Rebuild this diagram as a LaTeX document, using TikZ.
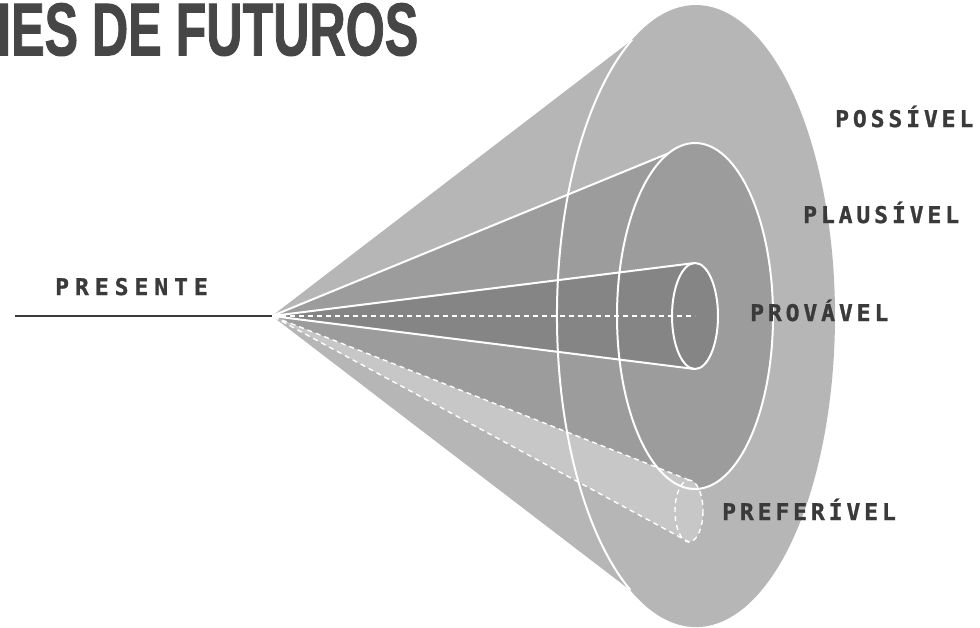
\documentclass[tikz,border=0pt]{standalone}
\usepackage{fontspec}
\usepackage{graphicx}
\setmainfont{DejaVu Sans Mono}
\newfontfamily\labfont[LetterSpace=17, BoldFeatures={FakeBold=1.2}]{DejaVu Sans Mono}
\newfontfamily\labfontwide[LetterSpace=26, BoldFeatures={FakeBold=1.2}]{DejaVu Sans Mono}
\newfontfamily\titlefont[BoldFeatures={FakeBold=1.5}]{Liberation Sans}
\definecolor{outerc}{HTML}{B6B6B6}
\definecolor{plausc}{HTML}{9C9C9C}
\definecolor{provc}{HTML}{858585}
\definecolor{bandc}{HTML}{C7C7C7}
\definecolor{txtc}{HTML}{3A3A3A}
\definecolor{titlec}{HTML}{464646}
\tikzset{
  wl/.style={white, line width=2},
  wd/.style={white, line width=1.4, dash pattern=on 5 off 4},
  lab/.style={anchor=base west, inner sep=0, text=txtc, font=\labfont\bfseries\fontsize{23}{23}\selectfont},
  labwide/.style={lab, font=\labfontwide\bfseries\fontsize{23}{23}\selectfont},
}
\begin{document}
\begin{tikzpicture}[x=1pt,y=-1pt]
\useasboundingbox (0,0) rectangle (980,627);
\clip (0,0) rectangle (980,627);
\fill[white] (0,0) rectangle (980,627);

% geometry points
\coordinate (A) at (272,316);
\coordinate (L) at (15,316);
\coordinate (T1) at (632,40);
\coordinate (T2) at (630.3,590);
\coordinate (PU) at (668.3,153.4);
\coordinate (PL) at (668.3,478.6);
\coordinate (PC) at (695,316);
\coordinate (RU) at (693.8,263.1);
\coordinate (RL) at (693.8,368.9);
\coordinate (BU) at (689,480);
\coordinate (BL) at (689,542);
\coordinate (BC) at (689,511);

% fills
\fill[outerc] (A) -- (T1) arc[start angle=242.6, end angle=478.2, x radius=139, y radius=311] -- cycle;
\fill[plausc] (A) -- (PU) arc[start angle=250, end angle=470, x radius=78, y radius=173] -- cycle;
\fill[provc] (A) -- (RU) arc[start angle=267, end angle=453, x radius=23, y radius=53] -- cycle;
\fill[bandc] (A) -- (BU) arc[start angle=270, end angle=450, x radius=14, y radius=31] -- cycle;

% white lines
\draw[wl] (T2) arc[start angle=118.2, end angle=242.6, x radius=139, y radius=311];
\draw[wl] (PC) ellipse[x radius=78, y radius=173];
\draw[wl] (A) -- (PU);
\draw[wl] (PC) ellipse[x radius=23, y radius=53];
\draw[wl] (A) -- (RU);
\draw[wl] (A) -- (RL);
\draw[wd] (A) -- (PC);
\draw[wd] (BU) -- (A) -- (BL);
\draw[wd] (BC) ellipse[x radius=14, y radius=31];

% present line
\draw[line width=2, color=txtc] (L) -- (A);

% labels
\node[labwide] (presente) at (55,295) {PRESENTE};
\node[lab] (provavel) at (750,321) {PROVÁVEL};
\node[lab] (preferivel) at (722,520) {PREFERÍVEL};
\node[lab] (possivel) at (835,127) {POSSÍVEL};
\node[lab] (plausivel) at (803,223) {PLAUSÍVEL};

% title
\node[anchor=north west, inner sep=0, text=titlec] (title) at (-3,3)
  {\resizebox{421pt}{52pt}{\titlefont\bfseries IES DE FUTUROS}};
\end{tikzpicture}
\end{document}
